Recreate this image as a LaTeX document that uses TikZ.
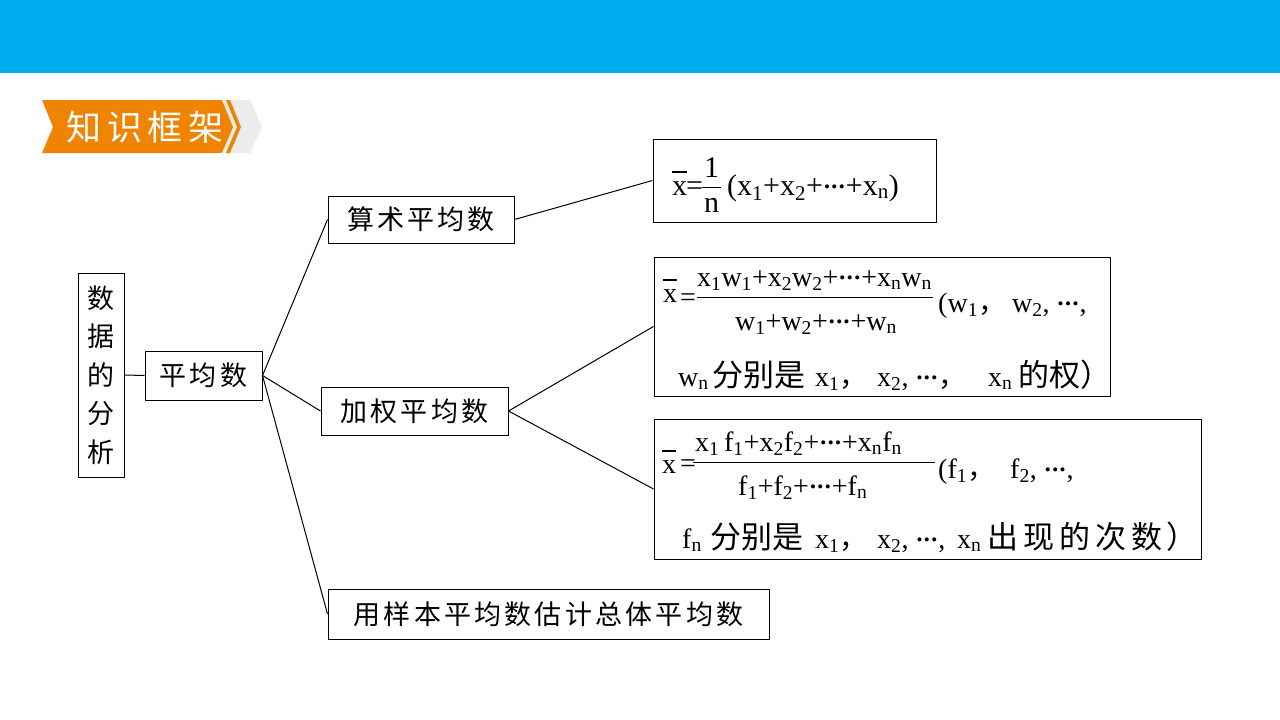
\documentclass[tikz,border=0pt]{standalone}
\usepackage{fontspec}
\setmainfont{Liberation Serif}
\newfontfamily\cjk{Noto Sans CJK SC}
\newfontfamily\cjkls{Noto Sans CJK SC}[LetterSpace=12]
\newfontfamily\cjkwide{Noto Sans CJK SC}[LetterSpace=16]
\newfontfamily\cjktitle{Noto Sans CJK SC}[LetterSpace=16]
\definecolor{topblue}{RGB}{0,174,239}
\definecolor{bannerorange}{RGB}{240,131,0}
\definecolor{bannergray}{RGB}{236,236,236}
\newcommand{\sbs}[1]{\textsubscript{#1}}
\newcommand{\dts}{{\fontsize{17}{17}\selectfont\raisebox{3pt}{\kern1pt•\kern1.5pt•\kern1.5pt•\kern1pt}}}
\begin{document}
\begin{tikzpicture}[x=1pt,y=-1pt,
  conn/.style={draw=black, line width=1pt},
  lbox/.style={draw=black, line width=1pt, inner sep=0pt, fill=white, font=\cjkls\fontsize{27}{30}\selectfont},
  fbox/.style={draw=black, line width=1pt, inner sep=0pt, fill=white},
  latA/.style={inner sep=0pt, anchor=base west, font=\fontsize{30}{32}\selectfont},
  latB/.style={inner sep=0pt, anchor=base west, font=\fontsize{28}{30}\selectfont},
  zh/.style={inner sep=0pt, anchor=base west, font=\cjk\fontsize{31}{33}\selectfont},
  barline/.style={line width=1.6pt},
  fracline/.style={line width=1pt}]
\useasboundingbox (0,0) rectangle (1280,720);
\fill[white] (0,0) rectangle (1280,720);
\fill[topblue] (0,0) rectangle (1280,73);
% banner
\fill[bannergray] (224,100) -- (250,100) -- (262,127) -- (250,153) -- (224,153) -- cycle;
\fill[bannerorange] (42,100) -- (222,100) -- (233,127) -- (222,153) -- (42,153) -- (53,127) -- cycle;
\fill[bannerorange] (226,100) -- (230,100) -- (241,127) -- (230,153) -- (226,153) -- (237,127) -- cycle;
\node[text=white, inner sep=0pt, font=\cjktitle\fontsize{35}{37}\selectfont] (title) at (145,127) {知识框架};
% tree boxes
\node[lbox, minimum width=46, minimum height=204, align=center, font=\cjk\fontsize{27}{38.5}\selectfont] (root) at (101,375) {数\\据\\的\\分\\析};
\node[lbox, minimum width=117, minimum height=49] (pj) at (203.5,375.5) {平均数};
\node[lbox, minimum width=186, minimum height=47] (ss) at (421,219.5) {算术平均数};
\node[lbox, minimum width=187, minimum height=48] (jq) at (414.5,411) {加权平均数};
\node[lbox, minimum width=441, minimum height=50] (yy) at (548.5,614) {用样本平均数估计总体平均数};
\node[fbox, minimum width=283, minimum height=83] (b1) at (794.5,180.5) {};
\node[fbox, minimum width=456, minimum height=139] (b2) at (882,326.5) {};
\node[fbox, minimum width=547, minimum height=140] (b3) at (927.5,489) {};
% connectors
\draw[conn] (root.east) -- (pj.west);
\draw[conn] (pj.east) -- (ss.west);
\draw[conn] (pj.east) -- (jq.west);
\draw[conn] (pj.east) -- (yy.west);
\draw[conn] (ss.east) -- (b1.west);
\draw[conn] (jq.east) -- (b2.west);
\draw[conn] (jq.east) -- (b3.west);
% box 1 formula
\node[latA] (b1x) at (672,195) {x};
\draw[barline] ([yshift=9pt]b1x.north west) -- ([yshift=9pt]b1x.north east);
\node[latA] (b1eq) at (686,195) {=};
\node[latA] (b1num) at (704,177) {1};
\node[latA] (b1den) at (704,212) {n};
\draw[fracline] (702,187) -- (721,187);
\node[latA] (b1par) at (727,195) {(x\sbs{1}+x\sbs{2}+\dts+x\sbs{n})};
% box 2 formula
\node[latB] (b2x) at (663,302) {x};
\draw[barline] ([yshift=9pt]b2x.north west) -- ([yshift=9pt]b2x.north east);
\node[latB] (b2eq) at (680,306) {=};
\node[latB] (b2num) at (697,286) {x\sbs{1}w\sbs{1}+x\sbs{2}w\sbs{2}+\dts+x\sbs{n}w\sbs{n}};
\draw[fracline] (697,297) -- (933,297);
\node[latB] (b2den) at (735,330) {w\sbs{1}+w\sbs{2}+\dts+w\sbs{n}};
\node[latB] (b2pa) at (938,312) {(w\sbs{1}{\cjk ，}};
\node[latB] (b2pb) at (1012,312) {w\sbs{2}, \dts,};
\node[latB] (b2la) at (678,386) {w\sbs{n}};
\node[zh] (b2lb) at (712,386) {分别是};
\node[latB] (b2lc) at (815,386) {x\sbs{1}{\cjk ，}};
\node[latB] (b2ld) at (877,386) {x\sbs{2}, \dts{\cjk ，}};
\node[latB] (b2le) at (988,386) {x\sbs{n}};
\node[zh] (b2lf) at (1018,386) {的权）};
% box 3 formula
\node[latB] (b3x) at (662,473) {x};
\draw[barline] ([yshift=9pt]b3x.north west) -- ([yshift=9pt]b3x.north east);
\node[latB] (b3eq) at (680,472) {=};
\node[latB] (b3num) at (695,451) {x\sbs{1}\,f\sbs{1}+x\sbs{2}f\sbs{2}+\dts+x\sbs{n}f\sbs{n}};
\draw[fracline] (693,462) -- (935,462);
\node[latB] (b3den) at (738,495) {f\sbs{1}+f\sbs{2}+\dts+f\sbs{n}};
\node[latB] (b3pa) at (938,478) {(f\sbs{1}{\cjk ，}};
\node[latB] (b3pb) at (1010,478) {f\sbs{2}, \dts,};
\node[latB] (b3la) at (682,548) {f\sbs{n}};
\node[zh] (b3lb) at (710,548) {分别是};
\node[latB] (b3lc) at (815,548) {x\sbs{1}{\cjk ，}};
\node[latB] (b3ld) at (877,548) {x\sbs{2}, \dts,};
\node[latB] (b3le) at (957,548) {x\sbs{n}};
\node[zh, font=\cjkwide\fontsize{31}{33}\selectfont] (b3lf) at (987,548) {出现的次数）};
\end{tikzpicture}
\end{document}
